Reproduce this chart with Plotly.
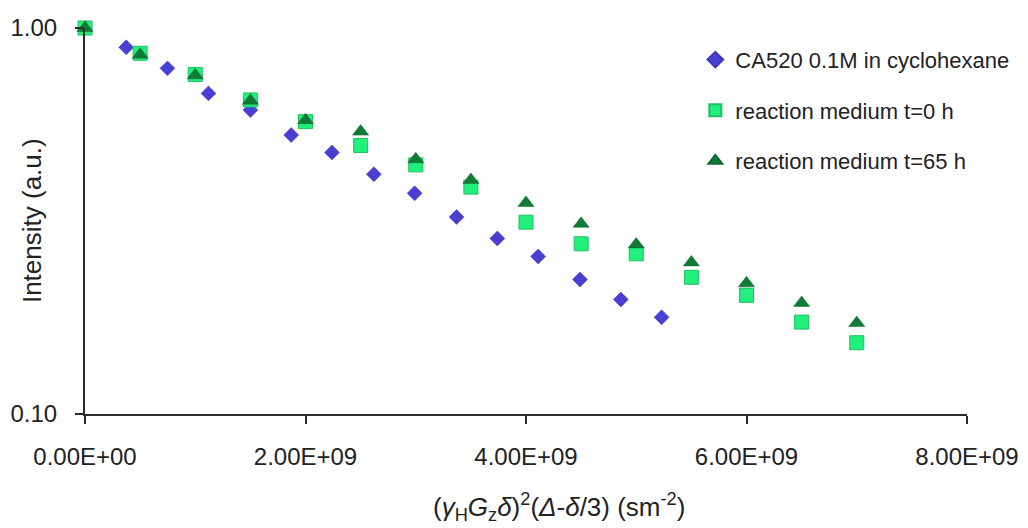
import plotly.graph_objects as go

# Diffusion decay data: x = (gamma_H G_z delta)^2 (Delta - delta/3) in s m^-2
x_ca520 = [0.0, 0.374e9, 0.748e9, 1.12e9, 1.50e9, 1.87e9, 2.24e9, 2.62e9,
           2.99e9, 3.37e9, 3.74e9, 4.11e9, 4.49e9, 4.86e9, 5.23e9]
y_ca520 = [1.0, 0.891, 0.786, 0.677, 0.613, 0.528, 0.476, 0.418,
           0.373, 0.324, 0.285, 0.256, 0.223, 0.198, 0.178]

x_medium = [0.0, 0.5e9, 1.0e9, 1.5e9, 2.0e9, 2.5e9, 3.0e9, 3.5e9,
            4.0e9, 4.5e9, 5.0e9, 5.5e9, 6.0e9, 6.5e9, 7.0e9]
y_t0 = [1.0, 0.860, 0.758, 0.651, 0.572, 0.496, 0.442, 0.387,
        0.314, 0.276, 0.260, 0.226, 0.203, 0.173, 0.153]
y_t65 = [1.0, 0.853, 0.754, 0.648, 0.577, 0.539, 0.457, 0.404,
         0.352, 0.311, 0.275, 0.247, 0.218, 0.194, 0.172]

x_tickvals = [0.0, 2e9, 4e9, 6e9, 8e9]
x_ticktext = ["0.00E+00", "2.00E+09", "4.00E+09", "6.00E+09", "8.00E+09"]
y_tickvals = [0.1, 1.0]
y_ticktext = ["0.10", "1.00"]

FONT = "Liberation Sans, Arial, sans-serif"
TEXT = "#222222"
AXIS = "#2b2b2b"

fig = go.Figure()
fig.add_trace(go.Scatter(
    x=x_ca520, y=y_ca520, mode="markers", name="CA520 0.1M in cyclohexane",
    legendgroup="a", cliponaxis=False,
    marker=dict(symbol="diamond", size=11.5, color="#4a3fd2",
                line=dict(color="#3f35b8", width=0.5)),
))
fig.add_trace(go.Scatter(
    x=x_medium, y=y_t0, mode="markers", name="reaction medium t=0 h",
    legendgroup="b", cliponaxis=False,
    marker=dict(symbol="square", size=14, color="#22f07c",
                line=dict(color="#1fbf63", width=1)),
))
fig.add_trace(go.Scatter(
    x=x_medium, y=y_t65, mode="markers", name="reaction medium t=65 h",
    legendgroup="c", cliponaxis=False,
    marker=dict(symbol="triangle-up", size=14, color="#107a36",
                line=dict(color="#0d6a2e", width=0.5)),
))

fig.update_layout(
    width=1028, height=528,
    margin=dict(l=85, r=61, t=28, b=114),
    paper_bgcolor="white", plot_bgcolor="white",
    font=dict(family=FONT, color=TEXT, size=18),
    legend=dict(
        x=0.692, y=0.972, xanchor="left", yanchor="top",
        font=dict(family=FONT, size=22, color=TEXT),
        tracegroupgap=19, itemsizing="constant",
        bgcolor="rgba(0,0,0,0)",
    ),
    xaxis=dict(
        range=[0, 8e9], tickvals=x_tickvals, ticktext=x_ticktext,
        showgrid=False, zeroline=False, automargin=False,
        showline=True, linecolor=AXIS, linewidth=2,
        ticks="outside", ticklen=8, tickwidth=2, tickcolor=AXIS,
        ticklabelstandoff=12,
        tickfont=dict(size=24, family=FONT, color=TEXT),
    ),
    yaxis=dict(
        type="log", range=[-1, 0], tickvals=y_tickvals, ticktext=y_ticktext,
        showgrid=True, gridcolor="#b5b5b5", gridwidth=1.5, zeroline=False,
        automargin=False,
        showline=True, linecolor=AXIS, linewidth=2,
        ticks="outside", ticklen=8, tickwidth=2, tickcolor=AXIS,
        ticklabelstandoff=13,
        tickfont=dict(size=24, family=FONT, color=TEXT),
    ),
    annotations=[
        dict(text="(<i>γ</i><sub>H</sub><i>G</i><sub>z</sub><i>δ</i>)<sup>2</sup>"
                  "(<i>Δ</i>-<i>δ</i>/3) (sm<sup>-2</sup>)",
             xref="paper", yref="paper", x=0.537, y=-0.24,
             xanchor="center", yanchor="middle", showarrow=False,
             font=dict(size=26, family=FONT, color=TEXT)),
        dict(text="Intensity (a.u.)", textangle=-90,
             xref="paper", yref="paper", x=-0.06, y=0.5,
             xanchor="center", yanchor="middle", showarrow=False,
             font=dict(size=26, family=FONT, color=TEXT)),
    ],
)

fig.write_html("out.html")
